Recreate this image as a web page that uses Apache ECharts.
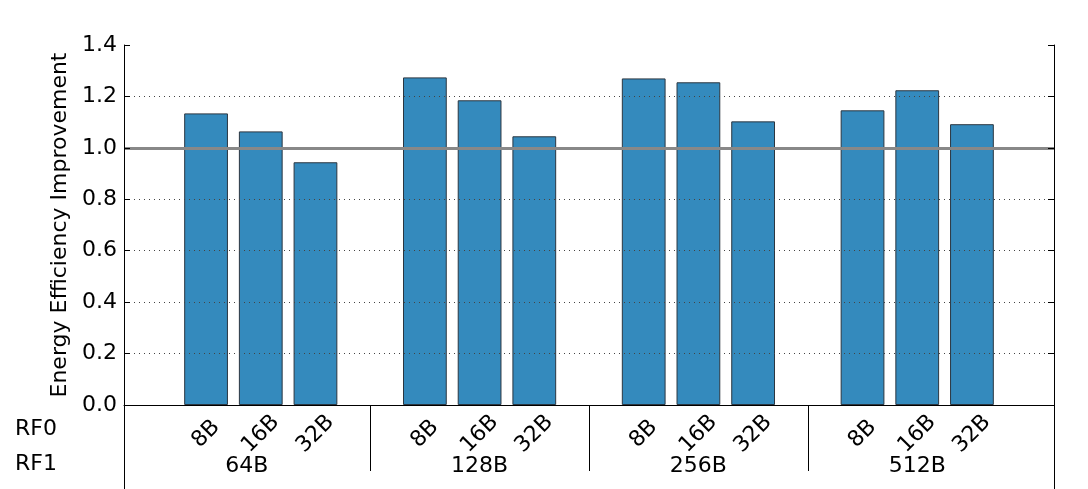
<!DOCTYPE html>
<html>
<head>
<meta charset="utf-8">
<script src="https://cdn.jsdelivr.net/npm/echarts@6/dist/echarts.min.js"></script>
<style>html,body{margin:0;padding:0;background:#fff;}#c{width:1088px;height:489px;}</style>
</head>
<body>
<div id="c"></div>
<script>
var groups = ['64B', '128B', '256B', '512B'];
var subs = ['8B', '16B', '32B'];
var vals64 = [1.134, 1.064, 0.944];
var vals128 = [1.274, 1.185, 1.045];
var vals256 = [1.270, 1.255, 1.103];
var vals512 = [1.146, 1.224, 1.092];
var yTicks = [0.0, 0.2, 0.4, 0.6, 0.8, 1.0, 1.2, 1.4];
var baseline = 1.0;

var groupVals = [vals64, vals128, vals256, vals512];
// slots: empty, 3 bars, empty, 3 bars ... empty
var cats = [''], data = [], groupCats = [''];
data.push(null);
for (var g = 0; g < groups.length; g++) {
  for (var s = 0; s < subs.length; s++) {
    cats.push(subs[s]);
    data.push(groupVals[g][s]);
    groupCats.push(s === 1 ? groups[g] : '');
  }
  cats.push('');
  data.push(null);
  groupCats.push('');
}
var sepIdx = [4, 8, 12];
var FONT = 'DejaVu Sans';
var FS = 22;

var chart = echarts.init(document.getElementById('c'), null, {renderer: 'canvas'});
chart.setOption({
  animation: false,
  backgroundColor: '#fff',
  grid: {left: 124, right: 34, top: 45, bottom: 84, containLabel: false},
  xAxis: [
    {
      type: 'category', data: cats, boundaryGap: true,
      axisLine: {show: true, onZero: false, lineStyle: {color: '#000', width: 1}},
      axisTick: {show: false},
      axisLabel: {show: true, interval: 0, rotate: 45, align: 'center', verticalAlign: 'middle',
        margin: 29, fontFamily: FONT, fontSize: FS, color: '#000'},
      splitLine: {show: false}
    },
    {
      type: 'category', data: groupCats, boundaryGap: true, position: 'bottom',
      axisLine: {show: false, onZero: false},
      axisTick: {show: true, alignWithLabel: true, length: 66,
        interval: function (i) { return sepIdx.indexOf(i) >= 0; },
        lineStyle: {color: '#000', width: 1}},
      axisLabel: {show: true, interval: 0, margin: 61, verticalAlign: 'middle',
        fontFamily: FONT, fontSize: FS, color: '#000',
        formatter: function (v, i) { return i === 2 ? '{l|' + v + '}' : v; },
        rich: {l: {fontFamily: FONT, fontSize: FS, color: '#000', padding: [0, 28, 0, 0]}}},
      splitLine: {show: false}
    },
    {
      type: 'value', min: 0, max: 1, interval: 1, position: 'bottom',
      axisLine: {show: false, onZero: false},
      axisTick: {show: true, length: 84, lineStyle: {color: '#000', width: 1}},
      axisLabel: {show: false},
      splitLine: {show: false}
    }
  ],
  yAxis: [
    {
      type: 'value', min: 0, max: 1.4, interval: 0.2, position: 'left', z: 5,
      name: 'Energy Efficiency Improvement', nameLocation: 'middle', nameGap: 46,
      nameTextStyle: {fontFamily: FONT, fontSize: FS, color: '#000'},
      axisLine: {show: true, lineStyle: {color: '#000', width: 1}},
      axisTick: {show: true, inside: true, length: 6, lineStyle: {color: '#000'}},
      axisLabel: {fontFamily: FONT, fontSize: FS, color: '#000', margin: 7,
        formatter: function (v) { return v.toFixed(1); }},
      splitLine: {show: true, showMaxLine: false, showMinLine: false,
        lineStyle: {color: '#444', width: 1, type: [1, 4]}}
    },
    {
      type: 'value', min: 0, max: 1.4, interval: 0.2, position: 'right', z: 5,
      axisLine: {show: true, lineStyle: {color: '#000', width: 1}},
      axisTick: {show: true, inside: true, length: 6, lineStyle: {color: '#000'}},
      axisLabel: {show: false},
      splitLine: {show: false}
    }
  ],
  series: [
    {
      type: 'line', data: [], z: 1, silent: true,
      markLine: {
        silent: true, symbol: ['none', 'none'], label: {show: false},
        lineStyle: {color: '#888', width: 3, type: 'solid'},
        data: [{yAxis: baseline}]
      }
    },
    {
      type: 'bar', data: data, barWidth: '80%', z: 2,
      itemStyle: {color: '#348ABD', borderColor: '#2b3640', borderWidth: 1}
    }
  ],
  graphic: [
    {type: 'text', left: 15, top: 418, style: {text: 'RF0', font: '22px "DejaVu Sans"', fill: '#000'}},
    {type: 'text', left: 15, top: 453, style: {text: 'RF1', font: '22px "DejaVu Sans"', fill: '#000'}}
  ]
});
</script>
</body>
</html>
